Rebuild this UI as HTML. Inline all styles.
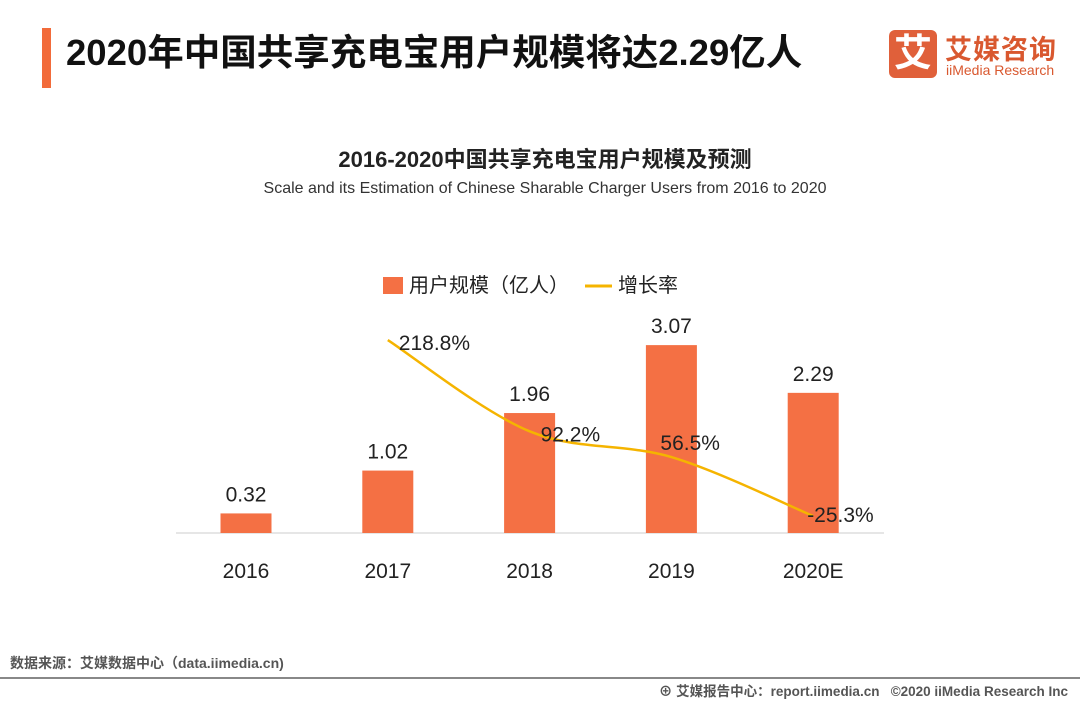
<!DOCTYPE html>
<html><head><meta charset="utf-8">
<style>
body{margin:0;width:1080px;height:702px;background:#fff;overflow:hidden;position:relative;font-family:"Liberation Sans","Noto Sans CJK SC",sans-serif;}
.abs{position:absolute;}
</style></head><body>
<div class="abs" style="left:42px;top:28px;width:9px;height:60px;background:#f26b3a"></div>
<div class="abs" style="left:66px;top:29px;font-size:36.5px;font-weight:bold;color:#111;line-height:48px;white-space:nowrap">2020年中国共享充电宝用户规模将达2.29亿人</div>
<div class="abs" style="left:889px;top:30px;width:170px;height:50px">
  <div style="position:absolute;left:0;top:0;width:48px;height:48px;background:#e0603a;border-radius:6px;color:#fff;font-size:38px;font-weight:bold;text-align:center;line-height:48px">艾</div>
  <div style="position:absolute;left:56px;top:-2px;font-size:27px;font-weight:bold;color:#d9582f;letter-spacing:1px">艾媒咨询</div>
  <div style="position:absolute;left:57px;top:32px;font-size:14px;color:#d9582f">iiMedia Research</div>
</div>
<div class="abs" style="left:0;width:1090px;top:142px;text-align:center;font-size:22px;font-weight:bold;color:#222;white-space:nowrap">2016-2020中国共享充电宝用户规模及预测</div>
<div class="abs" style="left:0;width:1090px;top:180px;text-align:center;font-size:16px;color:#333;white-space:nowrap">Scale and its Estimation of Chinese Sharable Charger Users from 2016 to 2020</div>
<svg class="abs" style="left:0;top:0" width="1080" height="702" id="chart">
  <rect x="383" y="277" width="20" height="17" fill="#f47044"/>
  <text x="409" y="292" font-size="20" fill="#222">用户规模（亿人）</text>
  <line x1="585" y1="286" x2="612" y2="286" stroke="#f5b400" stroke-width="3"/>
  <text x="618" y="292" font-size="20" fill="#222">增长率</text>
  <line x1="176" y1="533" x2="884" y2="533" stroke="#ccc" stroke-width="1"/>
</svg>
<div class="abs" style="left:10px;top:653px;font-size:14px;font-weight:bold;color:#555">数据来源：艾媒数据中心（data.iimedia.cn)</div>
<div class="abs" style="left:0;top:677px;width:1080px;height:2px;background:#888"></div>
<div class="abs" style="right:12px;top:680px;font-size:13.5px;font-weight:bold;color:#555">⊕ 艾媒报告中心：report.iimedia.cn &nbsp; ©2020 iiMedia Research Inc</div>
<script>
const categories=["2016","2017","2018","2019","2020E"];
const users=[0.32,1.02,1.96,3.07,2.29];
const growth=[null,218.8,92.2,56.5,-25.3];
const svg=document.getElementById('chart');
const NS='http://www.w3.org/2000/svg';
const x0=246,dx=141.8,base=533,pxU=61.2;
const xs=i=>x0+i*dx;
const yb=v=>base-v*pxU;
const yg=g=>497.8-g*0.721;
function mk(t,a){const e=document.createElementNS(NS,t);for(const k in a)e.setAttribute(k,a[k]);svg.appendChild(e);return e;}
categories.forEach((c,i)=>{
  const r=mk('rect',{x:xs(i)-25.5,y:yb(users[i]),width:51,height:base-yb(users[i]),fill:'#f47044'});
  
  
  const t=mk('text',{x:xs(i),y:yb(users[i])-12,'font-size':21,'text-anchor':'middle',fill:'#222'});t.textContent=users[i].toFixed(2);
  
  
  const l=mk('text',{x:xs(i),y:578,'font-size':21,'text-anchor':'middle',fill:'#222'});l.textContent=c;
  
  
});
const pts=[];growth.forEach((g,i)=>{if(g!==null)pts.push([xs(i),yg(g),g,i]);});
let d='M'+pts[0][0]+','+pts[0][1];
for(let i=0;i<pts.length-1;i++){
  const p0=pts[Math.max(0,i-1)],p1=pts[i],p2=pts[i+1],p3=pts[Math.min(pts.length-1,i+2)];
  const c1=[p1[0]+(p2[0]-p0[0])/6,p1[1]+(p2[1]-p0[1])/6],c2=[p2[0]-(p3[0]-p1[0])/6,p2[1]-(p3[1]-p1[1])/6];
  d+=` C${c1[0]},${c1[1]} ${c2[0]},${c2[1]} ${p2[0]},${p2[1]}`;
}
const path=mk('path',{d:d,fill:'none',stroke:'#f5b400','stroke-width':2.5});


const lblDx=[0,11,11,-11,-6];
const lblDy=[0,10,10,-7,6];
pts.forEach(p=>{
  const i=p[3];
  const t=mk('text',{x:p[0]+lblDx[i],y:p[1]+lblDy[i],'font-size':21,fill:'#222'});t.textContent=p[2].toFixed(1)+'%';
  
  
});
</script>
</body></html>
